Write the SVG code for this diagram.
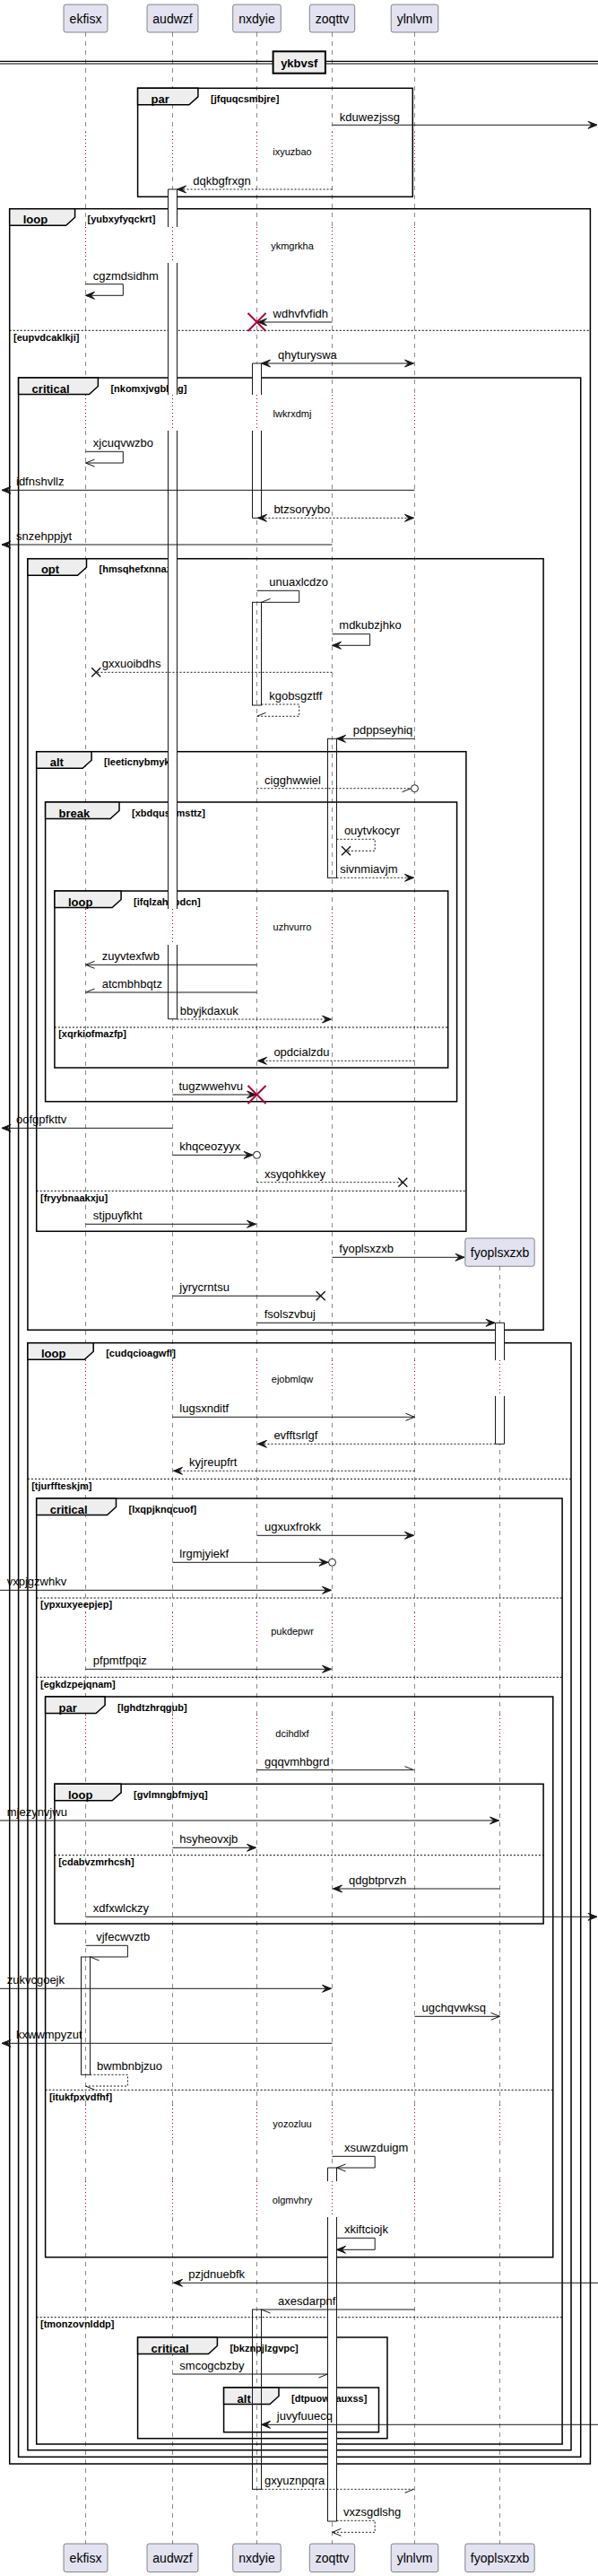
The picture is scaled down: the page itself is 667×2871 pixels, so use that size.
<svg xmlns="http://www.w3.org/2000/svg" width="667" height="2871" viewBox="0 0 667 2871">
<style>
.pbox{fill:#E2E2F0;stroke:#181818;stroke-width:0.5}
.pt{font-family:"Liberation Sans",Arial,sans-serif;font-size:14px;text-anchor:middle;fill:#000}
.ll{stroke:#181818;stroke-width:0.5;stroke-dasharray:5 5;fill:none}
.dl{stroke:#A80036;stroke-width:1;stroke-dasharray:1 3;fill:none}
.actf{fill:#fff;stroke:none}
.acts{fill:none;stroke:#181818;stroke-width:1}
.m{stroke:#181818;stroke-width:1;fill:none}
.d{stroke-dasharray:2 2}
.h{fill:#181818;stroke:#181818;stroke-width:1}
.ml{font-family:"Liberation Sans",Arial,sans-serif;font-size:13px;fill:#000}
.fr{fill:none;stroke:#000;stroke-width:1.5}
.tab{fill:#EEEEEE;stroke:#000;stroke-width:1.5}
.fn{font-family:"Liberation Sans",Arial,sans-serif;font-size:13px;font-weight:bold;fill:#000}
.gd{font-family:"Liberation Sans",Arial,sans-serif;font-size:11px;font-weight:bold;fill:#000}
.els{stroke:#000;stroke-width:1;stroke-dasharray:2 2;fill:none}
.dt{font-family:"Liberation Sans",Arial,sans-serif;font-size:11px;text-anchor:middle;fill:#000}
.kill{stroke:#A80036;stroke-width:2;fill:none}
.lost{stroke:#181818;stroke-width:1.5;fill:none}
.circ{fill:#fff;stroke:#181818;stroke-width:1}
</style>

<g id="lifelines">
<path class="ll" d="M95.5,36 V147 M95.5,187 V253 M95.5,293 V440 M95.5,480 V1013 M95.5,1053 V1516 M95.5,1556 V1797 M95.5,1837 V1911 M95.5,1951 V2346 M95.5,2386 V2431 M95.5,2471 V2835"/>
<path class="ll" d="M192.5,36 V147 M192.5,187 V253 M192.5,293 V440 M192.5,480 V1013 M192.5,1053 V1516 M192.5,1556 V1797 M192.5,1837 V1911 M192.5,1951 V2346 M192.5,2386 V2431 M192.5,2471 V2835"/>
<path class="ll" d="M286.5,36 V147 M286.5,187 V253 M286.5,293 V440 M286.5,480 V1013 M286.5,1053 V1516 M286.5,1556 V1797 M286.5,1837 V1911 M286.5,1951 V2346 M286.5,2386 V2431 M286.5,2471 V2835"/>
<path class="ll" d="M370.5,36 V147 M370.5,187 V253 M370.5,293 V440 M370.5,480 V1013 M370.5,1053 V1516 M370.5,1556 V1797 M370.5,1837 V1911 M370.5,1951 V2346 M370.5,2386 V2431 M370.5,2471 V2835"/>
<path class="ll" d="M462.5,36 V147 M462.5,187 V253 M462.5,293 V440 M462.5,480 V1013 M462.5,1053 V1516 M462.5,1556 V1797 M462.5,1837 V1911 M462.5,1951 V2346 M462.5,2386 V2431 M462.5,2471 V2835"/>
<path class="ll" d="M557.5,1411 V1516 M557.5,1556 V1797 M557.5,1837 V1911 M557.5,1951 V2346 M557.5,2386 V2431 M557.5,2471 V2835"/>
<path class="dl" d="M95.5,147 V187 M95.5,253 V293 M95.5,440 V480 M95.5,1013 V1053 M95.5,1516 V1556 M95.5,1797 V1837 M95.5,1911 V1951 M95.5,2346 V2386 M95.5,2431 V2471"/>
<path class="dl" d="M192.5,147 V187 M192.5,253 V293 M192.5,440 V480 M192.5,1013 V1053 M192.5,1516 V1556 M192.5,1797 V1837 M192.5,1911 V1951 M192.5,2346 V2386 M192.5,2431 V2471"/>
<path class="dl" d="M286.5,147 V187 M286.5,253 V293 M286.5,440 V480 M286.5,1013 V1053 M286.5,1516 V1556 M286.5,1797 V1837 M286.5,1911 V1951 M286.5,2346 V2386 M286.5,2431 V2471"/>
<path class="dl" d="M370.5,147 V187 M370.5,253 V293 M370.5,440 V480 M370.5,1013 V1053 M370.5,1516 V1556 M370.5,1797 V1837 M370.5,1911 V1951 M370.5,2346 V2386 M370.5,2431 V2471"/>
<path class="dl" d="M462.5,147 V187 M462.5,253 V293 M462.5,440 V480 M462.5,1013 V1053 M462.5,1516 V1556 M462.5,1797 V1837 M462.5,1911 V1951 M462.5,2346 V2386 M462.5,2431 V2471"/>
<path class="dl" d="M557.5,1516 V1556 M557.5,1797 V1837 M557.5,1911 V1951 M557.5,2346 V2386 M557.5,2431 V2471"/>
</g>

<g id="p-ekfisx"><rect class="pbox" x="71" y="5" width="49" height="31" rx="2.5"/><text class="pt" x="95.5" y="25.5">ekfisx</text><rect class="pbox" x="71" y="2835" width="49" height="31.5" rx="2.5"/><text class="pt" x="95.5" y="2855.5">ekfisx</text></g>
<g id="p-audwzf"><rect class="pbox" x="164" y="5" width="57" height="31" rx="2.5"/><text class="pt" x="192.5" y="25.5">audwzf</text><rect class="pbox" x="164" y="2835" width="57" height="31.5" rx="2.5"/><text class="pt" x="192.5" y="2855.5">audwzf</text></g>
<g id="p-nxdyie"><rect class="pbox" x="259.7" y="5" width="53.6" height="31" rx="2.5"/><text class="pt" x="286.5" y="25.5">nxdyie</text><rect class="pbox" x="259.7" y="2835" width="53.6" height="31.5" rx="2.5"/><text class="pt" x="286.5" y="2855.5">nxdyie</text></g>
<g id="p-zoqttv"><rect class="pbox" x="345.3" y="5" width="50.4" height="31" rx="2.5"/><text class="pt" x="370.5" y="25.5">zoqttv</text><rect class="pbox" x="345.3" y="2835" width="50.4" height="31.5" rx="2.5"/><text class="pt" x="370.5" y="2855.5">zoqttv</text></g>
<g id="p-ylnlvm"><rect class="pbox" x="436.2" y="5" width="52.6" height="31" rx="2.5"/><text class="pt" x="462.5" y="25.5">ylnlvm</text><rect class="pbox" x="436.2" y="2835" width="52.6" height="31.5" rx="2.5"/><text class="pt" x="462.5" y="2855.5">ylnlvm</text></g>
<g id="p-fyoplsxzxb"><rect class="pbox" x="518.8" y="1380" width="77.4" height="31.3" rx="2.5"/><text class="pt" x="557.5" y="1400.5">fyoplsxzxb</text><rect class="pbox" x="518.8" y="2835" width="77.4" height="31.5" rx="2.5"/><text class="pt" x="557.5" y="2855.5">fyoplsxzxb</text></g>

<g id="divider-ykbvsf">
<path d="M0,68.3 H667 M0,71 H667" stroke="#000" stroke-width="1.2" fill="none"/>
<rect x="304.6" y="57.3" width="58.3" height="24.4" fill="#EEEEEE" stroke="#000" stroke-width="2"/>
<text class="fn" x="333.75" y="74.5" text-anchor="middle">ykbvsf</text>
</g>

<g id="frames">
<g id="f-par1"><rect class="fr" x="153.6" y="98.3" width="306.7" height="121"/><polygon class="tab" points="153.6,98.3 220.9,98.3 220.9,107.8 210.9,116.8 153.6,116.8"/><text class="fn" x="168.6" y="114.8">par</text><text class="gd" x="235" y="113.8">[jfquqcsmbjre]</text></g>
<g id="f-loop1"><rect class="fr" x="10.7" y="232.7" width="647.7" height="2513.3"/><polygon class="tab" points="10.7,232.7 83.6,232.7 83.6,242.2 73.6,251.2 10.7,251.2"/><text class="fn" x="25.7" y="249.2">loop</text><text class="gd" x="97.6" y="248.2">[yubxyfyqckrt]</text><path class="els" d="M10.7,368.3 H658.4"/><text class="gd" x="15" y="379.6">[eupvdcaklkji]</text></g>
<g id="f-crit1"><rect class="fr" x="20.6" y="421" width="627.1" height="2317.3"/><polygon class="tab" points="20.6,421 109.4,421 109.4,430.5 99.4,439.5 20.6,439.5"/><text class="fn" x="35.6" y="437.5">critical</text><text class="gd" x="123.4" y="436.5">[nkomxjvgbbag]</text></g>
<g id="f-opt"><rect class="fr" x="30.9" y="622.7" width="575.2" height="859.6"/><polygon class="tab" points="30.9,622.7 96.5,622.7 96.5,632.2 86.5,641.2 30.9,641.2"/><text class="fn" x="45.9" y="639.2">opt</text><text class="gd" x="110.5" y="638.2">[hmsqhefxnnaz]</text></g>
<g id="f-alt1"><rect class="fr" x="40.7" y="837.7" width="479.2" height="534.6"/><polygon class="tab" points="40.7,837.7 102.1,837.7 102.1,847.2 92.1,856.2 40.7,856.2"/><text class="fn" x="55.7" y="854.2">alt</text><text class="gd" x="116.1" y="853.2">[leeticnybmyk]</text><path class="els" d="M40.7,1327.3 H519.9"/><text class="gd" x="45" y="1338.6">[fryybnaakxju]</text></g>
<g id="f-break"><rect class="fr" x="50.6" y="894" width="459" height="333.7"/><polygon class="tab" points="50.6,894 133,894 133,903.5 123,912.5 50.6,912.5"/><text class="fn" x="65.6" y="910.5">break</text><text class="gd" x="147" y="909.5">[xbdqusnmsttz]</text></g>
<g id="f-loop2"><rect class="fr" x="60.9" y="993" width="438.8" height="197"/><polygon class="tab" points="60.9,993 135.1,993 135.1,1002.5 125.1,1011.5 60.9,1011.5"/><text class="fn" x="75.9" y="1009.5">loop</text><text class="gd" x="149.1" y="1008.5">[ifqlzahxpdcn]</text><path class="els" d="M60.9,1145 H499.7"/><text class="gd" x="65.2" y="1156.3">[xqrkiofmazfp]</text></g>
<g id="f-loop3"><rect class="fr" x="30.9" y="1496.7" width="606.1" height="1234"/><polygon class="tab" points="30.9,1496.7 104.2,1496.7 104.2,1506.2 94.2,1515.2 30.9,1515.2"/><text class="fn" x="45.9" y="1513.2">loop</text><text class="gd" x="118.2" y="1512.2">[cudqcioagwfl]</text><path class="els" d="M30.9,1648.3 H637"/><text class="gd" x="35.2" y="1659.6">[tjurffteskjm]</text></g>
<g id="f-crit2"><rect class="fr" x="40.7" y="1670" width="586.4" height="1054"/><polygon class="tab" points="40.7,1670 129.5,1670 129.5,1679.5 119.5,1688.5 40.7,1688.5"/><text class="fn" x="55.7" y="1686.5">critical</text><text class="gd" x="143.5" y="1685.5">[lxqpjknqcuof]</text><path class="els" d="M40.7,1781 H627.1 M40.7,1869.3 H627.1 M40.7,2582.7 H627.1"/><text class="gd" x="45" y="1792.3">[ypxuxyeepjep]</text><text class="gd" x="45" y="1880.6">[egkdzpejqnam]</text><text class="gd" x="45" y="2594">[tmonzovnlddp]</text></g>
<g id="f-par2"><rect class="fr" x="50.6" y="1891" width="566.2" height="624.7"/><polygon class="tab" points="50.6,1891 117.1,1891 117.1,1900.5 107.1,1909.5 50.6,1909.5"/><text class="fn" x="65.6" y="1907.5">par</text><text class="gd" x="131.1" y="1906.5">[lghdtzhrqgub]</text><path class="els" d="M50.6,2329.3 H616.8"/><text class="gd" x="54.9" y="2340.6">[itukfpxvdfhf]</text></g>
<g id="f-loop4"><rect class="fr" x="60.9" y="1988.3" width="545.2" height="155.7"/><polygon class="tab" points="60.9,1988.3 135.1,1988.3 135.1,1997.8 125.1,2006.8 60.9,2006.8"/><text class="fn" x="75.9" y="2004.8">loop</text><text class="gd" x="149.1" y="2003.8">[gvlmngbfmjyq]</text><path class="els" d="M60.9,2067.7 H606.1"/><text class="gd" x="65.2" y="2079">[cdabvzmrhcsh]</text></g>
<g id="f-crit3"><rect class="fr" x="153.6" y="2605" width="278.4" height="112.7"/><polygon class="tab" points="153.6,2605 242.4,2605 242.4,2614.5 232.4,2623.5 153.6,2623.5"/><text class="fn" x="168.6" y="2621.5">critical</text><text class="gd" x="256.4" y="2620.5">[bkznpjlzgvpc]</text></g>
<g id="f-alt2"><rect class="fr" x="249.6" y="2661" width="172.9" height="49.7"/><polygon class="tab" points="249.6,2661 311,2661 311,2670.5 301,2679.5 249.6,2679.5"/><text class="fn" x="264.6" y="2677.5">alt</text><text class="gd" x="325" y="2676.5">[dtpuowuauxss]</text></g>
</g>

<g id="delays">
<text class="dt" x="326" y="173.3">ixyuzbao</text>
<text class="dt" x="326" y="278.3">ykmgrkha</text>
<text class="dt" x="326" y="465">lwkrxdmj</text>
<text class="dt" x="326" y="1037.3">uzhvurro</text>
<text class="dt" x="326" y="1540.7">ejobmlqw</text>
<text class="dt" x="326" y="1821.7">pukdepwr</text>
<text class="dt" x="326" y="1935.7">dcihdlxf</text>
<text class="dt" x="326" y="2370.7">yozozluu</text>
<text class="dt" x="326" y="2455.7">olgmvhry</text>
</g>

<g id="activations">
<rect class="actf" x="187.5" y="211" width="10" height="42"/><rect class="actf" x="187.5" y="293" width="10" height="147"/><rect class="actf" x="187.5" y="480" width="10" height="533"/><rect class="actf" x="187.5" y="1053" width="10" height="82.7"/>
<path class="acts" d="M187.5,253 V211 H197.5 V253 M187.5,293 V440 M197.5,293 V440 M187.5,480 V1013 M197.5,480 V1013 M187.5,1053 V1135.7 H197.5 V1053"/>
<rect class="actf" x="281.5" y="405" width="10" height="35"/><rect class="actf" x="281.5" y="480" width="10" height="97.3"/>
<path class="acts" d="M281.5,440 V405 H291.5 V440 M281.5,480 V577.3 H291.5 V480"/>
<rect class="actf acts" x="281.5" y="671.3" width="10" height="114.7"/>
<rect class="actf acts" x="365.5" y="823.3" width="10" height="155"/>
<rect class="actf" x="552.5" y="1474.3" width="10" height="41.7"/><rect class="actf" x="552.5" y="1556" width="10" height="53.3"/>
<path class="acts" d="M552.5,1516 V1474.3 H562.5 V1516 M552.5,1556 V1609.3 H562.5 V1556"/>
<rect class="actf acts" x="90.5" y="2181" width="10" height="131.3"/>
<rect class="actf" x="365.5" y="2416" width="10" height="15"/><rect class="actf" x="365.5" y="2471" width="10" height="339"/>
<path class="acts" d="M365.5,2431 V2416 H375.5 V2431 M365.5,2471 V2810 H375.5 V2471"/>
<rect class="actf acts" x="281.5" y="2574" width="10" height="200.3"/>
</g>

<g id="connectors">
<g><path class="m" d="M370.5,139.3 H666"/><polygon class="h" points="656,135.3 666,139.3 656,143.3 660,139.3"/><text class="ml" x="378.8" y="134.5">kduwezjssg</text></g>
<g><path class="m d" d="M370.5,211 H197.5"/><polygon class="h" points="207.5,207 197.5,211 207.5,215 203.5,211"/><text class="ml" x="215.3" y="206">dqkbgfrxgn</text></g>
<g><path class="m" d="M95.5,316.7 H137.3 V329.3 H95.5"/><polygon class="h" points="105.5,325.3 95.5,329.3 105.5,333.3 101.5,329.3"/><text class="ml" x="103.8" y="311.7">cgzmdsidhm</text></g>
<g><path class="m" d="M370.5,359 H287.5"/><polygon class="h" points="297.5,355 287.5,359 297.5,363 293.5,359"/><path class="kill" d="M276.5,349 L296.5,369 M296.5,349 L276.5,369"/><text class="ml" x="304.6" y="354">wdhvfvfidh</text></g>
<g><path class="m" d="M291.5,405 H461.5"/><polygon class="h" points="301.5,401 291.5,405 301.5,409 297.5,405"/><polygon class="h" points="451.5,401 461.5,405 451.5,409 455.5,405"/><text class="ml" x="310.1" y="400">qhyturyswa</text></g>
<g><path class="m" d="M95.5,503.3 H137.3 V516 H95.5 M105.5,512 L95.5,516 L105.5,520"/><text class="ml" x="103.8" y="498.3">xjcuqvwzbo</text></g>
<g><path class="m" d="M462.5,546.3 H2"/><polygon class="h" points="12,542.3 2,546.3 12,550.3 8,546.3"/><text class="ml" x="18" y="541.3">idfnshvllz</text></g>
<g><path class="m d" d="M287.5,577.3 H461.5"/><polygon class="h" points="297.5,573.3 287.5,577.3 297.5,581.3 293.5,577.3"/><polygon class="h" points="451.5,573.3 461.5,577.3 451.5,581.3 455.5,577.3"/><text class="ml" x="305.4" y="572.3">btzsoryybo</text></g>
<g><path class="m" d="M370.5,607 H2"/><polygon class="h" points="12,603 2,607 12,611 8,607"/><text class="ml" x="18" y="602">snzehppjyt</text></g>
<g><path class="m" d="M286.5,658.3 H333.7 V671.3 H291.5 M291.5,671.3 L301.5,667.3"/><text class="ml" x="300.3" y="652.5">unuaxlcdzo</text></g>
<g><path class="m" d="M370.5,706.7 H412.6 V719.3 H370.5"/><polygon class="h" points="380.5,715.3 370.5,719.3 380.5,723.3 376.5,719.3"/><text class="ml" x="378.3" y="701.2">mdkubzjhko</text></g>
<g><path class="m d" d="M370.5,749.3 H107.2"/><path class="lost" d="M102.2,744.3 L112.2,754.3 M112.2,744.3 L102.2,754.3"/><text class="ml" x="113.7" y="744">gxxuoibdhs</text></g>
<g><path class="m d" d="M291.5,785 H333.7 V798.3 H286.5"/><path class="m" d="M286.5,798.3 L296.5,794.3"/><text class="ml" x="300.3" y="779.5">kgobsgztff</text></g>
<g><path class="m" d="M462.5,823.3 H375.5"/><polygon class="h" points="385.5,819.3 375.5,823.3 385.5,827.3 381.5,823.3"/><text class="ml" x="393.8" y="818.3">pdppseyhiq</text></g>
<g><path class="m d" d="M286.5,878.7 H458.5"/><path class="m" d="M458.5,878.7 L448.5,882.7"/><circle class="circ" cx="462.5" cy="878.7" r="4"/><text class="ml" x="295.1" y="873.7">cigghwwiel</text></g>
<g><path class="m d" d="M375.5,935.3 H418.2 V948.3 H386"/><path class="lost" d="M381,943.3 L391,953.3 M391,943.3 L381,953.3"/><text class="ml" x="383.9" y="930">ouytvkocyr</text></g>
<g><path class="m d" d="M375.5,978.3 H461.5"/><polygon class="h" points="451.5,974.3 461.5,978.3 451.5,982.3 455.5,978.3"/><text class="ml" x="379.2" y="973.3">sivnmiavjm</text></g>
<g><path class="m" d="M286.5,1075.3 H95.5 M105.5,1071.3 L95.5,1075.3 L105.5,1079.3"/><text class="ml" x="113.7" y="1070.3">zuyvtexfwb</text></g>
<g><path class="m" d="M286.5,1106 H95.5 M95.5,1106 L105.5,1102"/><text class="ml" x="113.7" y="1101">atcmbhbqtz</text></g>
<g><path class="m d" d="M197.5,1136 H369.5"/><polygon class="h" points="359.5,1132 369.5,1136 359.5,1140 363.5,1136"/><text class="ml" x="200.7" y="1131">bbyjkdaxuk</text></g>
<g><path class="m d" d="M462.5,1182.3 H287.5"/><polygon class="h" points="297.5,1178.3 287.5,1182.3 297.5,1186.3 293.5,1182.3"/><text class="ml" x="305.4" y="1177.3">opdcialzdu</text></g>
<g><path class="m" d="M192.5,1220 H285.5"/><polygon class="h" points="275.5,1216 285.5,1220 275.5,1224 279.5,1220"/><path class="kill" d="M276.5,1210 L296.5,1230 M296.5,1210 L276.5,1230"/><text class="ml" x="199.5" y="1215">tugzwwehvu</text></g>
<g><path class="m" d="M192.5,1257.3 H2"/><polygon class="h" points="12,1253.3 2,1257.3 12,1261.3 8,1257.3"/><text class="ml" x="18" y="1252.3">oofgpfkttv</text></g>
<g><path class="m" d="M192.5,1287.3 H282"/><polygon class="h" points="272,1283.3 282,1287.3 272,1291.3 276,1287.3"/><circle class="circ" cx="286.5" cy="1287.3" r="4"/><text class="ml" x="200.3" y="1282.3">khqceozyyx</text></g>
<g><path class="m d" d="M286.5,1317.7 H449.3"/><path class="lost" d="M444.3,1312.7 L454.3,1322.7 M454.3,1312.7 L444.3,1322.7"/><text class="ml" x="295.1" y="1312.7">xsyqohkkey</text></g>
<g><path class="m" d="M95.5,1364.3 H285.5"/><polygon class="h" points="275.5,1360.3 285.5,1364.3 275.5,1368.3 279.5,1364.3"/><text class="ml" x="103.8" y="1359.3">stjpuyfkht</text></g>
<g><path class="m" d="M370.5,1401.3 H518"/><polygon class="h" points="508,1397.3 518,1401.3 508,1405.3 512,1401.3"/><text class="ml" x="378.3" y="1396.3">fyoplsxzxb</text></g>
<g><path class="m" d="M192.5,1444.3 H357.7"/><path class="lost" d="M352.7,1439.3 L362.7,1449.3 M362.7,1439.3 L352.7,1449.3"/><text class="ml" x="200.3" y="1439.3">jyrycrntsu</text></g>
<g><path class="m" d="M286.5,1474.3 H552"/><polygon class="h" points="542,1470.3 552,1474.3 542,1478.3 546,1474.3"/><text class="ml" x="294.7" y="1469.3">fsolszvbuj</text></g>
<g><path class="m" d="M192.5,1579.3 H462.5 M452.5,1575.3 L462.5,1579.3 L452.5,1583.3"/><text class="ml" x="200.3" y="1574.3">lugsxnditf</text></g>
<g><path class="m d" d="M552.5,1609.3 H287.5"/><polygon class="h" points="297.5,1605.3 287.5,1609.3 297.5,1613.3 293.5,1609.3"/><text class="ml" x="305.4" y="1604.3">evfftsrlgf</text></g>
<g><path class="m d" d="M462.5,1639.3 H193.5"/><polygon class="h" points="203.5,1635.3 193.5,1639.3 203.5,1643.3 199.5,1639.3"/><text class="ml" x="211" y="1634.3">kyjreupfrt</text></g>
<g><path class="m" d="M286.5,1711.3 H461.5"/><polygon class="h" points="451.5,1707.3 461.5,1711.3 451.5,1715.3 455.5,1711.3"/><text class="ml" x="295.1" y="1706.3">ugxuxfrokk</text></g>
<g><path class="m" d="M192.5,1741.3 H366"/><polygon class="h" points="356,1737.3 366,1741.3 356,1745.3 360,1741.3"/><circle class="circ" cx="370.5" cy="1741.3" r="4"/><text class="ml" x="200.3" y="1736.3">lrgmjyiekf</text></g>
<g><path class="m" d="M0,1772.3 H369.5"/><polygon class="h" points="359.5,1768.3 369.5,1772.3 359.5,1776.3 363.5,1772.3"/><text class="ml" x="7.7" y="1767.3">vxpjgzwhkv</text></g>
<g><path class="m" d="M95.5,1860.3 H369.5"/><polygon class="h" points="359.5,1856.3 369.5,1860.3 359.5,1864.3 363.5,1860.3"/><text class="ml" x="103.8" y="1855.3">pfpmtfpqiz</text></g>
<g><path class="m" d="M286.5,1972.7 H461.5 M461.5,1972.7 L451.5,1968.7"/><text class="ml" x="295.1" y="1967.7">gqqvmhbgrd</text></g>
<g><path class="m" d="M0,2029 H556.5"/><polygon class="h" points="546.5,2025 556.5,2029 546.5,2033 550.5,2029"/><text class="ml" x="7.7" y="2024">mjezynvjwu</text></g>
<g><path class="m" d="M192.5,2059.3 H285.5"/><polygon class="h" points="275.5,2055.3 285.5,2059.3 275.5,2063.3 279.5,2059.3"/><text class="ml" x="200.3" y="2054.3">hsyheovxjb</text></g>
<g><path class="m" d="M557.5,2105 H371.5"/><polygon class="h" points="381.5,2101 371.5,2105 381.5,2109 377.5,2105"/><text class="ml" x="389" y="2100">qdgbtprvzh</text></g>
<g><path class="m" d="M95.5,2136.3 H666"/><polygon class="h" points="656,2132.3 666,2136.3 656,2140.3 660,2136.3"/><text class="ml" x="103.8" y="2131.3">xdfxwlckzy</text></g>
<g><path class="m" d="M95.5,2168.3 H142.4 V2181 H100.5 M100.5,2181 L110.5,2185"/><text class="ml" x="107.2" y="2163.3">vjfecwvztb</text></g>
<g><path class="m" d="M0,2216.3 H369.5"/><polygon class="h" points="359.5,2212.3 369.5,2216.3 359.5,2220.3 363.5,2216.3"/><text class="ml" x="7.7" y="2211.3">zukvcgoejk</text></g>
<g><path class="m" d="M462.5,2247.3 H557.5 M547.5,2243.3 L557.5,2247.3 L547.5,2251.3"/><text class="ml" x="470.5" y="2242.3">ugchqvwksq</text></g>
<g><path class="m" d="M370.5,2277.3 H2"/><polygon class="h" points="12,2273.3 2,2277.3 12,2281.3 8,2277.3"/><text class="ml" x="18" y="2272.3">kxwwmpyzut</text></g>
<g><path class="m d" d="M100.5,2312.3 H142.4 V2325 H95.5"/><path class="m" d="M95.5,2325 L105.5,2329"/><text class="ml" x="108.1" y="2307.3">bwmbnbjzuo</text></g>
<g><path class="m" d="M370.5,2403.3 H418.2 V2416 H375.5 M385.5,2412 L375.5,2416 L385.5,2420"/><text class="ml" x="383.9" y="2398.3">xsuwzduigm</text></g>
<g><path class="m" d="M375.5,2494.3 H418.2 V2507.3 H375.5"/><polygon class="h" points="385.5,2503.3 375.5,2507.3 385.5,2511.3 381.5,2507.3"/><text class="ml" x="383.9" y="2489.3">xkiftciojk</text></g>
<g><path class="m" d="M667,2544.3 H193.5"/><polygon class="h" points="203.5,2540.3 193.5,2544.3 203.5,2548.3 199.5,2544.3"/><text class="ml" x="210.2" y="2539.3">pzjdnuebfk</text></g>
<g><path class="m" d="M462.5,2574 H291.5 M291.5,2574 L301.5,2578"/><text class="ml" x="310.1" y="2569">axesdarpnf</text></g>
<g><path class="m" d="M192.5,2646 H365.5 M365.5,2646 L355.5,2650"/><text class="ml" x="200.3" y="2641">smcogcbzby</text></g>
<g><path class="m" d="M667,2702.3 H291.5"/><polygon class="h" points="301.5,2698.3 291.5,2702.3 301.5,2706.3 297.5,2702.3"/><text class="ml" x="308.8" y="2697.3">juvyfuuecq</text></g>
<g><path class="m d" d="M291.5,2774.3 H461.5"/><path class="m" d="M461.5,2774.3 L451.5,2778.3"/><text class="ml" x="295.1" y="2769.3">gxyuznpqra</text></g>
<g><path class="m d" d="M375.5,2809.3 H418.2 V2822.3 H370.5"/><path class="m" d="M380.5,2818.3 L370.5,2822.3 L380.5,2826.3"/><text class="ml" x="383" y="2804.3">vxzsgdlshg</text></g>
</g>
</svg>
